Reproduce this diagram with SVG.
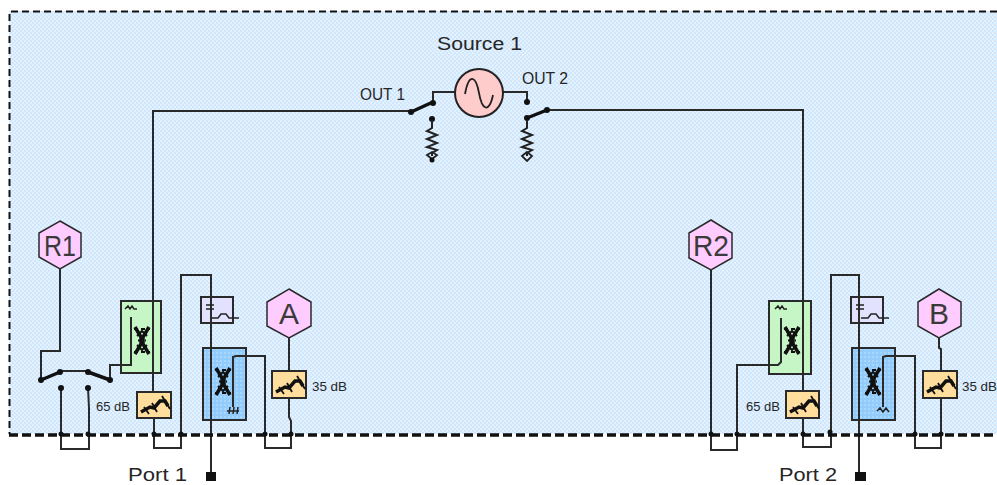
<svg xmlns="http://www.w3.org/2000/svg" width="997" height="485" viewBox="0 0 997 485">
<style>
text{font-family:"Liberation Sans",Arial,sans-serif;fill:#262626}
.w{fill:none;stroke:#2a2a2a;stroke-width:2}
.h{fill:#ffccff;stroke:#2a2a2a;stroke-width:1.5}
.hl{font-size:30px;text-anchor:middle;fill:#3a3a3a}
.g{fill:#c6f5c6;stroke:#2a2a2a;stroke-width:2}
.c{fill:url(#bluedots);stroke:#2a2a2a;stroke-width:2}
.t{fill:#e2e2ff;stroke:#2a2a2a;stroke-width:2}
.a{fill:#ffdd9c;stroke:#2a2a2a;stroke-width:2}
.p{fill:#111}
.d{fill:#111}
.s{fill:none;stroke:#111;stroke-width:3.500}
.lb{font-size:13px}
.thin{fill:none;stroke:#222;stroke-width:1.500}
.port{font-size:18px}
.out{font-size:16px}
</style>
<defs>
<pattern id="bg" width="4" height="4" patternUnits="userSpaceOnUse">
<rect width="4" height="4" fill="#cfe6fb"/>
<rect width="2" height="2" fill="#e4f1ff"/>
<rect x="2" y="2" width="2" height="2" fill="#e4f1ff"/>
</pattern>
<pattern id="bluedots" width="4" height="4" patternUnits="userSpaceOnUse">
<rect width="4" height="4" fill="#93ccfb"/>
<rect width="2" height="2" fill="#a8d8ff"/>
</pattern>
<g id="att">
<path d="M3 20L12 15L16 16L22 9L27 9L30 14" fill="none" stroke="#111" stroke-width="3.500"/>
<path d="M24 4L32 17M6 15L11 22M14 11L19 20" fill="none" stroke="#111" stroke-width="1.800"/>
</g>
<g id="x">
<path d="M1 0L7 10V17L1 27M15 0L9 10V17L15 27" fill="none" stroke="#111" stroke-width="3.500"/>
<path d="M0 2H16M4 13.500H12M0 25H16" fill="none" stroke="#111" stroke-width="2" stroke-dasharray="4 3"/>
<path d="M3 9L8 4L13 9M3 18L8 23L13 18" fill="none" stroke="#111" stroke-width="2"/>
</g>
<path id="res" d="M0 0V8L-5 11L5 15L-5 19L5 23L-5 27L5 30L0 33V36" fill="none" stroke="#222" stroke-width="2"/>
</defs>

<rect id="panel" x="9" y="11" width="988" height="423" fill="url(#bg)"/>
<path id="boundary" d="M997 11.500H9.500V434" fill="none" stroke="#111" stroke-width="2" stroke-dasharray="7 4"/>

<g id="boxes-left">
<rect id="coupler-green-1" class="g" x="121" y="301" width="40" height="72"/>
<rect id="bias-tee-1" class="t" x="201" y="297" width="32" height="26"/>
<rect id="coupler-blue-1" class="c" x="203" y="348" width="43" height="72"/>
</g>
<g id="boxes-right">
<rect id="coupler-green-2" class="g" x="769" y="301" width="42" height="73"/>
<rect id="bias-tee-2" class="t" x="851" y="297" width="32" height="26"/>
<rect id="coupler-blue-2" class="c" x="852" y="348" width="43" height="72"/>
</g>

<g id="connectors">
<path class="w" d="M411 111H153V392M154 417V448H181V275H211V474"/>
<path class="w" d="M60 269V351H41V380M110 380V365H131V317"/>
<path class="w" d="M61 388V449H89V408L88 388"/>
<path class="w" d="M233 407V357L236 356H265V448H291V421L289 417V398M289 371V338"/>
<path class="w" d="M433 103V92H455M503 92H527V102"/>
<path class="w" d="M547 110H803V447H831V275H859V474"/>
<path class="w" d="M711 270V450H737V365H778L781 362V318"/>
<path class="w" d="M883 407V357L886 356H915V448H941V398M941 371V349L939 348V338"/>
<path class="s" d="M411 112L433 102M527 118L547 110M41 380L60 372M88 372L110 380"/>
<path class="w" d="M60 371H88"/>
</g>

<g id="dashed-line"><path d="M9 435H997" fill="none" stroke="#111" stroke-width="3.500" stroke-dasharray="9 4"/></g>

<g id="junctions">
<circle class="d" cx="433" cy="103" r="3"/><circle class="d" cx="411" cy="112" r="3"/><circle class="d" cx="527" cy="102" r="3"/><circle class="d" cx="527" cy="118" r="3"/><circle class="d" cx="547" cy="110" r="3"/>
<circle class="d" cx="41" cy="380" r="3"/><circle class="d" cx="60" cy="372" r="3"/><circle class="d" cx="88" cy="372" r="3"/><circle class="d" cx="110" cy="380" r="3"/><circle class="d" cx="61" cy="388" r="3"/><circle class="d" cx="88" cy="388" r="3"/>
<circle class="d" cx="61" cy="434" r="2.500"/><circle class="d" cx="88" cy="434" r="2.500"/><circle class="d" cx="154" cy="434" r="2.500"/><circle class="d" cx="181" cy="434" r="2.500"/><circle class="d" cx="265" cy="434" r="2.500"/><circle class="d" cx="291" cy="434" r="2.500"/>
<circle class="d" cx="711" cy="434" r="2.500"/><circle class="d" cx="737" cy="434" r="2.500"/><circle class="d" cx="803" cy="434" r="2.500"/><circle class="d" cx="830" cy="432" r="2.500"/><circle class="d" cx="915" cy="434" r="2.500"/><circle class="d" cx="941" cy="434" r="2.500"/>
</g>

<g id="source-1">
<circle cx="479" cy="93" r="24" fill="#ffcccc" stroke="#222" stroke-width="2"/>
<path d="M465 94C469 72 476 76 479 93C482 110 489 114 493 95" fill="none" stroke="#222" stroke-width="1.800"/>
<text x="437" y="50" font-size="18" textLength="85" lengthAdjust="spacingAndGlyphs">Source 1</text>
</g>
<g id="out-1"><text class="out" x="360" y="100" textLength="45" lengthAdjust="spacingAndGlyphs">OUT 1</text></g>
<g id="out-2"><text class="out" x="522" y="84" textLength="46" lengthAdjust="spacingAndGlyphs">OUT 2</text></g>
<g id="load-1"><circle class="d" cx="432" cy="119" r="3"/><use href="#res" x="432" y="120"/><path d="M427 155L432 152L437 155L432 159Z" fill="none" stroke="#222" stroke-width="1.800"/><circle class="d" cx="432" cy="160" r="2.500"/></g>
<g id="load-2"><use href="#res" x="527" y="120"/><path d="M522 156L527 152L532 156L527 161Z" fill="none" stroke="#222" stroke-width="1.800"/></g>

<g id="r1"><path class="h" d="M60 221L81 233V257L60 269L39 257V233Z"/><text class="hl" x="60" y="256" textLength="32" lengthAdjust="spacingAndGlyphs">R1</text></g>
<g id="r2"><path class="h" d="M711 220L732 233V258L711 270L689 258V233Z"/><text class="hl" x="711" y="256" textLength="36" lengthAdjust="spacingAndGlyphs">R2</text></g>
<g id="a"><path class="h" d="M289 289L311 302V326L289 338L267 326V302Z"/><text class="hl" x="289" y="324">A</text></g>
<g id="b"><path class="h" d="M939 289L961 302V326L939 338L918 326V302Z"/><text class="hl" x="939" y="324">B</text></g>

<g id="coupler-1-parts"><path d="M125 309L128 306L130 309L132 306L134 309L137 309" class="thin"/><use href="#x" x="134" y="327"/></g>
<g id="coupler-2-parts"><path d="M775 309L778 306L780 309L782 306L784 309L787 309" class="thin"/><use href="#x" x="784" y="327"/></g>
<g id="coupler-3-parts"><path d="M227 411H239M230 407L229 414M234 407L233 414M238 407L237 414" class="thin"/><use href="#x" x="215" y="368"/></g>
<g id="coupler-4-parts"><path d="M877 411L880 408L883 412L886 408L889 412" class="thin"/><use href="#x" x="865" y="368"/></g>

<g id="tee-1-parts"><path d="M206 305H214M206 309H214" class="thin"/><path d="M211 318H218L221 314L226 314L229 318H239" class="thin"/></g>
<g id="tee-2-parts"><path d="M856 305H864M856 309H864" class="thin"/><path d="M861 318H868L871 314L876 314L879 318H889" class="thin"/></g>

<g id="att-65-1"><rect class="a" x="137" y="392" width="34" height="26"/><use href="#att" x="138" y="392"/><text class="lb" x="96" y="411" textLength="34" lengthAdjust="spacingAndGlyphs">65 dB</text></g>
<g id="att-35-1"><rect class="a" x="272" y="371" width="34" height="27"/><use href="#att" x="273" y="372"/><text class="lb" x="312" y="391" textLength="35" lengthAdjust="spacingAndGlyphs">35 dB</text></g>
<g id="att-65-2"><rect class="a" x="786" y="391" width="33" height="27"/><use href="#att" x="787" y="392"/><text class="lb" x="746" y="411" textLength="34" lengthAdjust="spacingAndGlyphs">65 dB</text></g>
<g id="att-35-2"><rect class="a" x="923" y="371" width="34" height="27"/><use href="#att" x="924" y="372"/><text class="lb" x="962" y="391" textLength="35" lengthAdjust="spacingAndGlyphs">35 dB</text></g>

<g id="port-1"><rect class="p" x="206" y="472" width="10" height="9"/><text class="port" x="128" y="481" textLength="59" lengthAdjust="spacingAndGlyphs">Port 1</text></g>
<g id="port-2"><rect class="p" x="855" y="472" width="11" height="9"/><text class="port" x="779" y="481" textLength="58" lengthAdjust="spacingAndGlyphs">Port 2</text></g>
</svg>
